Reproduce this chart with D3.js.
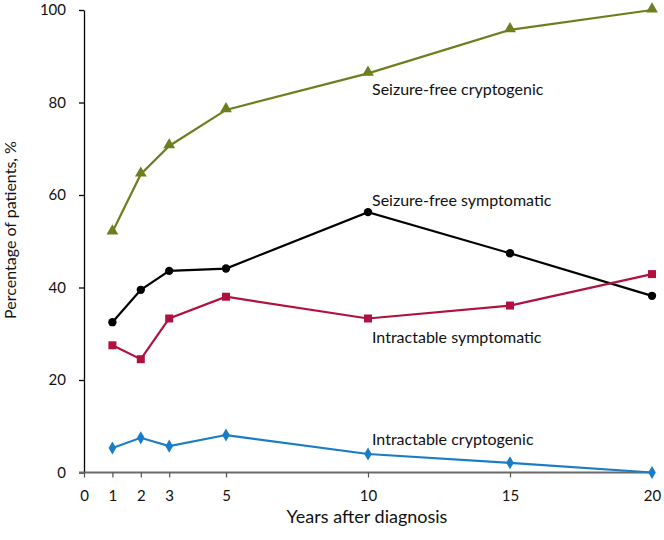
<!DOCTYPE html>
<html><head><meta charset="utf-8">
<script src="https://cdn.jsdelivr.net/npm/d3@7"></script>
<style>body{margin:0;background:#fff}svg{display:block}text{font-family:Lato,"Open Sans",sans-serif;fill:#111}</style>
</head><body><svg id="c" width="664" height="540"></svg>
<script>
const years = [1, 2, 3, 5, 10, 15, 20];
const xTicks = [0, 1, 2, 3, 5, 10, 15, 20];
const yTicks = [0, 20, 40, 60, 80, 100];
const seizureFreeCryptogenic = [52.0, 64.5, 70.6, 78.4, 86.3, 95.7, 100];
const seizureFreeSymptomatic = [32.5, 39.5, 43.6, 44.1, 56.3, 47.4, 38.2];
const intractableSymptomatic = [27.5, 24.5, 33.3, 38.0, 33.3, 36.1, 42.9];
const intractableCryptogenic = [5.3, 7.5, 5.7, 8.1, 4.0, 2.1, 0];
const seriesNames = ["Seizure-free cryptogenic", "Seizure-free symptomatic", "Intractable symptomatic", "Intractable cryptogenic"];

const series = [
  {name: seriesNames[0], values: seizureFreeCryptogenic, color: "#6b7f1e", sym: d3.symbolTriangle, size: 60, ly: 95},
  {name: seriesNames[1], values: seizureFreeSymptomatic, color: "#000000", sym: d3.symbolCircle, size: 55, ly: 205.5},
  {name: seriesNames[2], values: intractableSymptomatic, color: "#b01240", sym: d3.symbolSquare, size: 64, ly: 342.5},
  {name: seriesNames[3], values: intractableCryptogenic, color: "#1b7cc6", sym: d3.symbolDiamond, size: 50, ly: 445}
];

const svg = d3.select("#c");
const x = d3.scaleLinear().domain([0, 20]).range([84, 652]);
const y = d3.scaleLinear().domain([0, 100]).range([472.5, 10]);

// y axis
const ya = svg.append("g").attr("transform", "translate(84,0)")
  .call(d3.axisLeft(y).tickValues(yTicks).tickSize(5).tickPadding(13).tickSizeOuter(0));
ya.select(".domain").attr("stroke", "#000").attr("stroke-width", 1.3);
ya.selectAll(".tick line").attr("stroke", "#000").attr("stroke-width", 1.3);
ya.selectAll("text").style("font-size", "15px").style("font-family", "Lato, sans-serif").attr("fill", "#111");

// x axis
const xa = svg.append("g").attr("transform", "translate(0,472.5)")
  .call(d3.axisBottom(x).tickValues(xTicks).tickSize(5).tickPadding(13).tickSizeOuter(0));
xa.select(".domain").attr("d", `M79,0H${x(20)}`).attr("stroke", "#6b6b6b").attr("stroke-width", 2.2);
xa.selectAll(".tick line").attr("stroke", "#555").attr("stroke-width", 1.2);
xa.selectAll("text").style("font-size", "15px").style("font-family", "Lato, sans-serif").attr("fill", "#111");

// lines
const line = d3.line().x((d, i) => x(years[i])).y(d => y(d));
series.forEach(s => {
  svg.append("path").datum(s.values).attr("d", line)
    .attr("fill", "none").attr("stroke", s.color).attr("stroke-width", 2.2);
  svg.selectAll(null).data(s.values).enter().append("path")
    .attr("d", d3.symbol().type(s.sym).size(s.size))
    .attr("transform", (d, i) => `translate(${x(years[i])},${y(d) + (s.sym === d3.symbolTriangle ? -1 : 0)})`)
    .attr("fill", s.color);
  svg.append("text").attr("x", x(10) + 4).attr("y", s.ly).text(s.name)
    .style("font-size", "16px");
});

// axis titles
svg.append("text").attr("x", 367).attr("y", 523).attr("text-anchor", "middle")
  .style("font-size", "18px").text("Years after diagnosis");
svg.append("text").attr("transform", "translate(16,230) rotate(-90)").attr("text-anchor", "middle")
  .style("font-size", "16px").text("Percentage of patients, %");
</script></body></html>
